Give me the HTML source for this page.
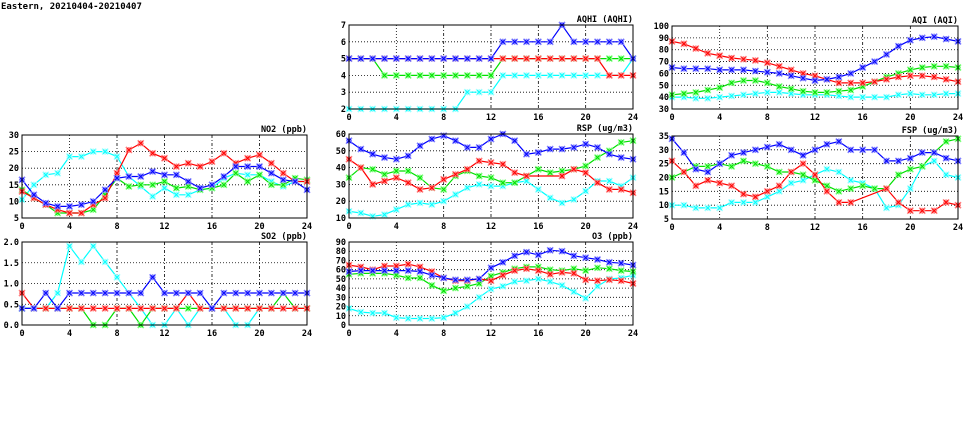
<!DOCTYPE html>
<html><head><meta charset="utf-8"><style>
html,body{margin:0;padding:0;background:#fff;width:975px;height:447px;overflow:hidden}
svg text{font-family:"DejaVu Sans Mono","Liberation Mono",monospace;font-weight:bold;font-size:8.5px;fill:#000}
</style></head><body>
<svg id="s" width="975" height="447" xmlns="http://www.w3.org/2000/svg">
<text x="1" y="9" style="font-size:9px">Eastern, 20210404-20210407</text>
</svg>
<script>
const S=document.getElementById('s');
const NS='http://www.w3.org/2000/svg';
function el(t,a,txt){const e=document.createElementNS(NS,t);for(const k in a)e.setAttribute(k,a[k]);if(txt!=null)e.textContent=txt;S.appendChild(e);return e;}
const C={b:'#0000ff',r:'#ff0000',g:'#00e000',c:'#00ffff'};
const L={b:'#8080ff',r:'#ff8080',g:'#80ff80',c:'#a0ffff'};
function panel(p){
 const {x0,x1,y0,y1,ymin,ymax,step,title,data,fmt}=p;
 const X=h=>x0+(x1-x0)*h/24, Y=v=>y1-(y1-y0)*(v-ymin)/(ymax-ymin);
 for(let h=4;h<24;h+=4)el('line',{x1:X(h),x2:X(h),y1:y0,y2:y1,stroke:'#000','stroke-width':0.8,'stroke-dasharray':h>=8?'3,2,1,2':'1,2'});
 for(let v=ymin+step;v<ymax-1e-9;v+=step)el('line',{x1:x0,x2:x1,y1:Y(v),y2:Y(v),stroke:'#000','stroke-width':0.8,'stroke-dasharray':'1,2'});
 for(const k of ['c','g','r','b']){
  const d=data[k];let path='';
  d.forEach((v,i)=>{if(v==null){return;}path+=(path?'L':'M')+X(i).toFixed(1)+','+Y(v).toFixed(1);});
  el('path',{d:path,fill:'none',stroke:C[k],'stroke-width':1.2});
  d.forEach((v,i)=>{if(v==null)return;const x=X(i),y=Y(v),r=3;
   el('path',{d:`M${x-r},${y-r}L${x+r},${y+r}M${x-r},${y+r}L${x+r},${y-r}M${x-r},${y}L${x+r},${y}M${x},${y-r}L${x},${y+r}`,stroke:L[k],'stroke-width':1.6,fill:'none'});
   el('path',{d:`M${x-2},${y-2}L${x+2},${y+2}M${x-2},${y+2}L${x+2},${y-2}`,stroke:C[k],'stroke-width':1,fill:'none'});
  });
 }
 el('rect',{x:x0,y:y0,width:x1-x0,height:y1-y0,fill:'none',stroke:'#000','stroke-width':1});
 for(let h=0;h<=24;h+=4)el('text',{x:X(h),y:y1+11,'text-anchor':'middle'},String(h));
 for(let v=ymin;v<=ymax+1e-9;v+=step)el('text',{x:x0-3,y:Y(v)+3,'text-anchor':'end'},fmt?v.toFixed(1):String(Math.round(v)));
 el('text',{x:x1,y:y0-3,'text-anchor':'end'},title);
}
const c1=[349,633],c2=[672,958],c0=[22,307];
panel({x0:c1[0],x1:c1[1],y0:25,y1:109,ymin:2,ymax:7,step:1,title:'AQHI (AQHI)',data:{
 b:[5,5,5,5,5,5,5,5,5,5,5,5,5,6,6,6,6,6,7,6,6,6,6,6,5],
 r:[5,5,5,5,5,5,5,5,5,5,5,5,5,5,5,5,5,5,5,5,5,5,4,4,4],
 g:[5,5,5,4,4,4,4,4,4,4,4,4,4,5,5,5,5,5,5,5,5,5,5,5,5],
 c:[2,2,2,2,2,2,2,2,2,2,3,3,3,4,4,4,4,4,4,4,4,4,4,4,5]}});
panel({x0:c2[0],x1:c2[1],y0:26,y1:109,ymin:30,ymax:100,step:10,title:'AQI (AQI)',data:{
 r:[87,85,81,77,75,73,72,71,69,66,63,60,58,55,52,52,52,53,55,57,58,58,57,55,53],
 b:[65,64,64,64,63,63,63,62,61,60,58,56,54,55,57,60,65,70,76,83,88,90,91,89,87],
 g:[42,43,44,46,48,52,54,54,52,49,47,45,44,44,45,46,49,53,57,60,63,65,66,66,65],
 c:[40,40,39,39,40,41,42,43,44,44,43,42,42,42,41,40,40,40,40,42,43,42,42,43,43]}});
panel({x0:c0[0],x1:c0[1],y0:135,y1:218,ymin:5,ymax:30,step:5,title:'NO2 (ppb)',data:{
 c:[10.5,15,18,18.5,23.5,23.5,25,25,23.5,17.5,14.5,11.5,14,12,12,13.5,14,17,18.5,18,18,16,14.5,16,16],
 g:[13.5,11,9,6.5,6.5,6.5,7.5,12,17,14.5,15,15,16,14,14.5,13.5,14,15,18.5,16,18,15,15,17,16.5],
 r:[13,11,9,7.5,6.5,6.5,9,11,18.5,25.5,27.5,24.5,23,20.5,21.5,20.5,22,24.5,21.5,23,24,21.5,18.5,16,16],
 b:[16.5,12,9.5,8.5,8.5,9,10,13.5,17,17.5,17.5,19,18,18,16,14,15,17.5,20.5,20.5,20.5,18.5,16.5,16,13.5]}});
panel({x0:c1[0],x1:c1[1],y0:134,y1:218,ymin:10,ymax:60,step:10,title:'RSP (ug/m3)',data:{
 b:[56,51,48,46,45,47,53,57,59,56,52,52,57,60,56,48,49,51,51,52,54,52,48,46,45],
 r:[45,40,30,32,34,31,27,28,33,36,39,44,43,42,37,35,null,null,35,39,37,31,27,27,25],
 g:[34,40,39,36,38,38,34,28,27,35,38,35,34,31,31,35,39,37,38,39,41,46,50,55,56],
 c:[14,13,11,12,15,18,19,18,20,24,28,30,29,29,31,32,27,22,19,21,26,32,32,29,34]}});
panel({x0:c2[0],x1:c2[1],y0:136,y1:219,ymin:5,ymax:35,step:5,title:'FSP (ug/m3)',data:{
 b:[34,29,23,22,25,28,29,30,31,32,30,28,30,32,33,30,30,30,26,26,27,29,29,27,26],
 r:[26,22,17,19,18,17,14,13,15,17,22,25,21,15,11,11,null,null,16,11,8,8,8,11,10],
 g:[20,22,24,24,25,24,26,25,24,22,22,21,19,17,15,16,17,16,16,21,23,24,29,33,34],
 c:[10,10,9,9,9,11,11,11,13,15,18,19,21,23,22,19,18,16,9,10,16,24,26,21,20]}});
panel({x0:c0[0],x1:c0[1],y0:242,y1:325,ymin:0,ymax:2,step:0.5,fmt:1,title:'SO2 (ppb)',data:{
 c:[.4,.4,.4,.77,1.9,1.52,1.9,1.52,1.15,.77,.4,0,0,.4,0,.4,.4,.4,0,0,.4,.4,.4,.4,.4],
 g:[.4,.4,.4,.4,.4,.4,0,0,.4,.4,0,.4,.4,.4,.4,.4,.4,.4,.4,.4,.4,.4,.77,.4,.4],
 r:[.77,.4,.4,.4,.4,.4,.4,.4,.4,.4,.4,.4,.4,.4,.77,.4,.4,.4,.4,.4,.4,.4,.4,.4,.4],
 b:[.4,.4,.77,.4,.77,.77,.77,.77,.77,.77,.77,1.15,.77,.77,.77,.77,.4,.77,.77,.77,.77,.77,.77,.77,.77]}});
panel({x0:c1[0],x1:c1[1],y0:242,y1:325,ymin:0,ymax:90,step:10,title:'O3 (ppb)',data:{
 c:[18,14,13,13,8,7,7,7,8,13,20,30,39,42,47,48,50,47,43,36,29,42,50,51,54],
 g:[55,56,56,56,54,51,51,43,37,40,42,45,53,57,61,63,63,60,59,61,59,62,61,59,58],
 r:[65,63,60,64,64,66,63,58,51,48,48,50,48,54,59,61,59,55,57,56,49,48,49,48,45],
 b:[58,59,59,59,59,59,58,54,51,49,49,50,62,68,75,79,76,81,80,75,73,71,68,67,65]}});
</script>
</body></html>
